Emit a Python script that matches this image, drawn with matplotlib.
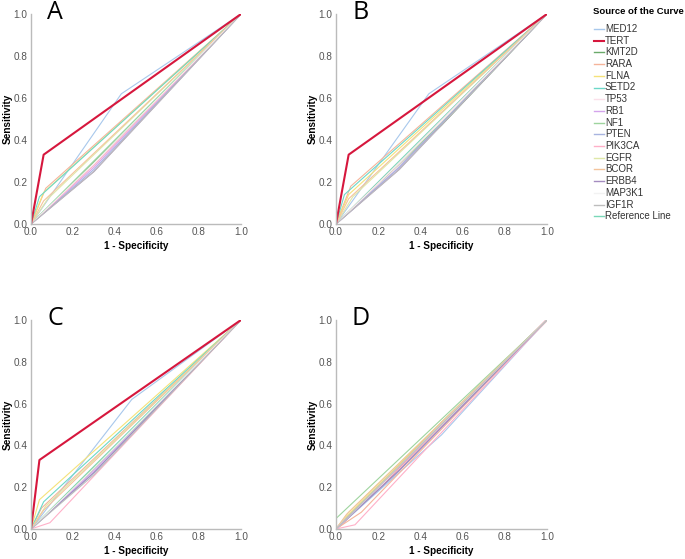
import matplotlib.pyplot as plt
from matplotlib.lines import Line2D

plt.rcParams['font.family'] = ['Liberation Sans', 'DejaVu Sans']

genes = ['MED12', 'TERT', 'KMT2D', 'RARA', 'FLNA', 'SETD2', 'TP53', 'RB1',
         'NF1', 'PTEN', 'PIK3CA', 'EGFR', 'BCOR', 'ERBB4', 'MAP3K1', 'IGF1R']
colors = ['#a8c8ec', '#d6173d', '#6aaa6a', '#f5b49a', '#f5e27a', '#6cd8c8',
          '#fbe0ea', '#d4a4ec', '#9ed49e', '#a8b4e0', '#ffb0c8', '#dfe8a8',
          '#f4c49c', '#a48cc0', '#f2f2f2', '#bdbdbd']
ref_color = '#7ad8b8'

# one cut-off point (1 - specificity, sensitivity) per gene and panel
fpr_a = [0.43, 0.06, 0.50, 0.07, 0.06, 0.04, 0.30, 0.30, 0.50, 0.30, 0.30, 0.08, 0.06, 0.30, 0.30, 0.30]
tpr_a = [0.62, 0.33, 0.49, 0.17, 0.15, 0.13, 0.28, 0.27, 0.50, 0.26, 0.28, 0.12, 0.11, 0.25, 0.29, 0.25]
fpr_b = [0.44, 0.06, 0.50, 0.07, 0.06, 0.04, 0.30, 0.30, 0.50, 0.30, 0.30, 0.08, 0.06, 0.30, 0.30, 0.30]
tpr_b = [0.62, 0.33, 0.47, 0.18, 0.14, 0.14, 0.28, 0.27, 0.48, 0.27, 0.29, 0.13, 0.12, 0.26, 0.29, 0.26]
fpr_c = [0.48, 0.04, 0.50, 0.05, 0.04, 0.06, 0.30, 0.30, 0.50, 0.30, 0.09, 0.07, 0.06, 0.30, 0.30, 0.30]
tpr_c = [0.62, 0.33, 0.48, 0.10, 0.14, 0.13, 0.28, 0.28, 0.49, 0.27, 0.03, 0.11, 0.09, 0.27, 0.29, 0.26]
fpr_d = [0.50, 0.30, 0.50, 0.12, 0.05, 0.05, 0.30, 0.30, 0.00, 0.30, 0.09, 0.06, 0.05, 0.30, 0.30, 0.30]
tpr_d = [0.45, 0.29, 0.51, 0.08, 0.06, 0.05, 0.29, 0.30, 0.05, 0.28, 0.02, 0.08, 0.07, 0.28, 0.30, 0.30]

panels = [('A', fpr_a, tpr_a), ('B', fpr_b, tpr_b), ('C', fpr_c, tpr_c), ('D', fpr_d, tpr_d)]
positions = [[0.0453, 0.5993, 0.3066, 0.3757], [0.4905, 0.5993, 0.308, 0.3757],
             [0.0453, 0.0537, 0.3066, 0.374], [0.4905, 0.0537, 0.308, 0.374]]
ticks = [0, 0.2, 0.4, 0.6, 0.8, 1.0]
tick_labels = ['0.0', '0.2', '0.4', '0.6', '0.8', '1.0']

fig = plt.figure(figsize=(6.85, 5.59), dpi=100)

for (letter, fpr, tpr), pos in zip(panels, positions):
    ax = fig.add_axes(pos)
    ax.plot([0, 1], [0, 1], color=ref_color, lw=0.8, zorder=1)
    t = genes.index('TERT')
    others = [i for i in range(len(genes)) if i != t]
    # in panel D the TERT curve lies in the bundle and is mostly covered
    order = [t] + others if letter == 'D' else others + [t]
    for z, i in enumerate(order):
        lw = 1.5 if i == t else 0.8
        ax.plot([0, fpr[i], 1], [0, tpr[i], 1], color=colors[i], lw=lw, zorder=2 + z * 0.01)
    ax.set_xlim(0, 1)
    ax.set_ylim(0, 1)
    ax.set_xticks(ticks)
    ax.set_yticks(ticks)
    ax.set_xticklabels(tick_labels)
    ax.set_yticklabels(tick_labels)
    ax.tick_params(length=0, labelsize=7.2, colors='#555555', pad=2.5)
    for s in ['top', 'right']:
        ax.spines[s].set_visible(False)
    for s in ['left', 'bottom']:
        ax.spines[s].set_color('#bbbbbb')
        ax.spines[s].set_linewidth(1)
    ax.set_xlabel('1 - Specificity', fontsize=7.2, fontweight='bold')
    ax.set_ylabel('Sensitivity', fontsize=7.2, fontweight='bold')
    ax.xaxis.set_label_coords(0.5, -0.08)
    ax.yaxis.set_label_coords(-0.085, 0.5)
    ax.text(0.115, 1.005, letter, transform=ax.transAxes, fontsize=18,
            family=['Open Sans', 'DejaVu Sans'], va='center', ha='center', clip_on=False)

# legend
W, H = 685, 559
fig.text(593 / W, 1 - 12 / H, 'Source of the Curve', fontsize=6.8, fontweight='bold',
         va='center', ha='left')
labels = genes + ['Reference Line']
leg_colors = colors + [ref_color]
for k, (lab, c) in enumerate(zip(labels, leg_colors)):
    y = 1 - (29 + k * 11.7) / H
    lw = 1.5 if lab == 'TERT' else 1.0
    fig.add_artist(Line2D([594 / W, 604 / W], [y, y], color=c, lw=lw,
                          transform=fig.transFigure))
    fig.text(605 / W, y, lab, fontsize=7, color='#333333', va='center', ha='left')

fig.savefig('out.png', dpi=100)
